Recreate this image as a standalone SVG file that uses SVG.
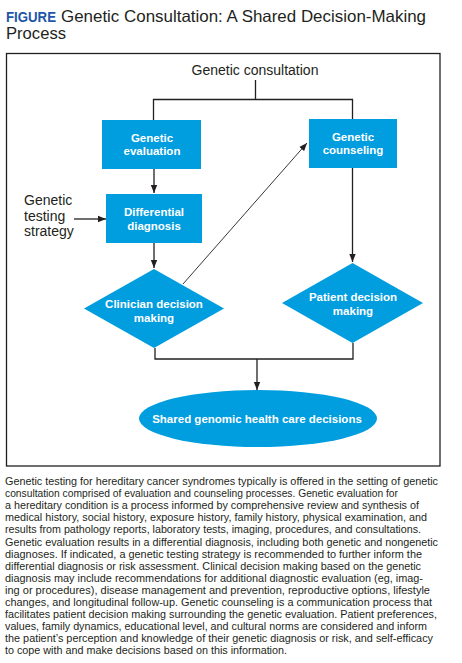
<svg xmlns="http://www.w3.org/2000/svg" width="462" height="663" viewBox="0 0 462 663">
<style>
.t{font-family:"Liberation Sans",Arial,sans-serif;fill:#231f20}
.n{font-family:"Liberation Sans",Arial,sans-serif;font-weight:bold;font-size:11.5px;fill:#fff;text-anchor:middle}
.shape{fill:#009ddf}
.c{stroke:#231f20;stroke-width:1.3;fill:none}
.p{font-family:"Liberation Sans",Arial,sans-serif;font-size:10.5px;fill:#231f20}
</style>
<defs>
<marker id="ah" markerWidth="8" markerHeight="8" viewBox="0 0 8 8" refX="8" refY="4" orient="auto" markerUnits="userSpaceOnUse">
<path d="M0,0.8 L8,4 L0,7.2 Z" fill="#231f20"/>
</marker>
</defs>
<rect width="462" height="663" fill="#fff"/>
<g id="title">
<text x="6" y="22" font-family="Liberation Sans,Arial,sans-serif" font-weight="bold" fill="#1e56a8" font-size="14.5" textLength="50" lengthAdjust="spacingAndGlyphs">FIGURE</text>
<text class="t" x="61" y="22" font-size="16.5" textLength="365" lengthAdjust="spacingAndGlyphs">Genetic Consultation: A Shared Decision-Making</text>
<text class="t" x="6" y="39" font-size="16.5" textLength="60" lengthAdjust="spacingAndGlyphs">Process</text>
</g>
<rect id="frame" x="6.5" y="53.5" width="433.5" height="412.5" fill="none" stroke="#231f20" stroke-width="1.3"/>
<g id="connectors">
<path class="c" d="M255.5,80 V99 M153.5,120 V99.5 H352.5 V119"/>
<path class="c" d="M154,169 V193" marker-end="url(#ah)"/>
<path class="c" d="M74,219 H106" marker-end="url(#ah)"/>
<path class="c" d="M154,243 V268" marker-end="url(#ah)"/>
<path class="c" d="M352.5,168 V262" marker-end="url(#ah)"/>
<path d="M183,284 L307,143" stroke="#231f20" stroke-width="0.9" fill="none" marker-end="url(#ah)"/>
<path class="c" d="M155,348 V359 H353 V343"/>
<path class="c" d="M257,359 V390" marker-end="url(#ah)"/>
</g>
<g id="consultation"><text class="t" x="255" y="75" font-size="14" text-anchor="middle">Genetic consultation</text></g>
<g id="evaluation">
<rect class="shape" x="102" y="120" width="99" height="49"/>
<text class="n" x="152" y="142">Genetic</text>
<text class="n" x="152" y="155">evaluation</text>
</g>
<g id="counseling">
<rect class="shape" x="309" y="119" width="88" height="49"/>
<text class="n" x="353" y="141">Genetic</text>
<text class="n" x="353" y="154">counseling</text>
</g>
<g id="strategy">
<text class="t" x="24" y="205" font-size="14">Genetic</text>
<text class="t" x="24" y="221" font-size="14">testing</text>
<text class="t" x="24" y="236" font-size="14">strategy</text>
</g>
<g id="differential">
<rect class="shape" x="106" y="194" width="96" height="49"/>
<text class="n" x="154" y="216">Differential</text>
<text class="n" x="154" y="230">diagnosis</text>
</g>
<g id="clinician">
<polygon class="shape" points="154,269 224,308.5 154,348 84,308.5"/>
<text class="n" x="154" y="308">Clinician decision</text>
<text class="n" x="154" y="322">making</text>
</g>
<g id="patient">
<polygon class="shape" points="352.5,263 423,303 352.5,343 282,303"/>
<text class="n" x="353" y="301">Patient decision</text>
<text class="n" x="353" y="315">making</text>
</g>
<g id="shared">
<ellipse class="shape" cx="258" cy="418.5" rx="119" ry="28.5"/>
<text class="n" x="257" y="423">Shared genomic health care decisions</text>
</g>
<g id="caption">
<text class="p" x="5" y="485" textLength="433" lengthAdjust="spacingAndGlyphs">Genetic testing for hereditary cancer syndromes typically is offered in the setting of genetic</text>
<text class="p" x="5" y="497.1" textLength="393" lengthAdjust="spacingAndGlyphs">consultation comprised of evaluation and counseling processes. Genetic evaluation for</text>
<text class="p" x="5" y="509.2" textLength="414" lengthAdjust="spacingAndGlyphs">a hereditary condition is a process informed by comprehensive review and synthesis of</text>
<text class="p" x="5" y="521.3" textLength="422" lengthAdjust="spacingAndGlyphs">medical history, social history, exposure history, family history, physical examination, and</text>
<text class="p" x="5" y="533.4" textLength="416" lengthAdjust="spacingAndGlyphs">results from pathology reports, laboratory tests, imaging, procedures, and consultations.</text>
<text class="p" x="5" y="545.5" textLength="433" lengthAdjust="spacingAndGlyphs">Genetic evaluation results in a differential diagnosis, including both genetic and nongenetic</text>
<text class="p" x="5" y="557.6" textLength="417" lengthAdjust="spacingAndGlyphs">diagnoses. If indicated, a genetic testing strategy is recommended to further inform the</text>
<text class="p" x="5" y="569.7" textLength="416" lengthAdjust="spacingAndGlyphs">differential diagnosis or risk assessment. Clinical decision making based on the genetic</text>
<text class="p" x="5" y="581.8" textLength="418" lengthAdjust="spacingAndGlyphs">diagnosis may include recommendations for additional diagnostic evaluation (eg, imag-</text>
<text class="p" x="5" y="593.9" textLength="425" lengthAdjust="spacingAndGlyphs">ing or procedures), disease management and prevention, reproductive options, lifestyle</text>
<text class="p" x="5" y="606" textLength="427" lengthAdjust="spacingAndGlyphs">changes, and longitudinal follow-up. Genetic counseling is a communication process that</text>
<text class="p" x="5" y="618.1" textLength="432" lengthAdjust="spacingAndGlyphs">facilitates patient decision making surrounding the genetic evaluation. Patient preferences,</text>
<text class="p" x="5" y="630.2" textLength="422" lengthAdjust="spacingAndGlyphs">values, family dynamics, educational level, and cultural norms are considered and inform</text>
<text class="p" x="5" y="642.3" textLength="428" lengthAdjust="spacingAndGlyphs">the patient’s perception and knowledge of their genetic diagnosis or risk, and self-efficacy</text>
<text class="p" x="5" y="654.4" textLength="282" lengthAdjust="spacingAndGlyphs">to cope with and make decisions based on this information.</text>
</g>
</svg>
